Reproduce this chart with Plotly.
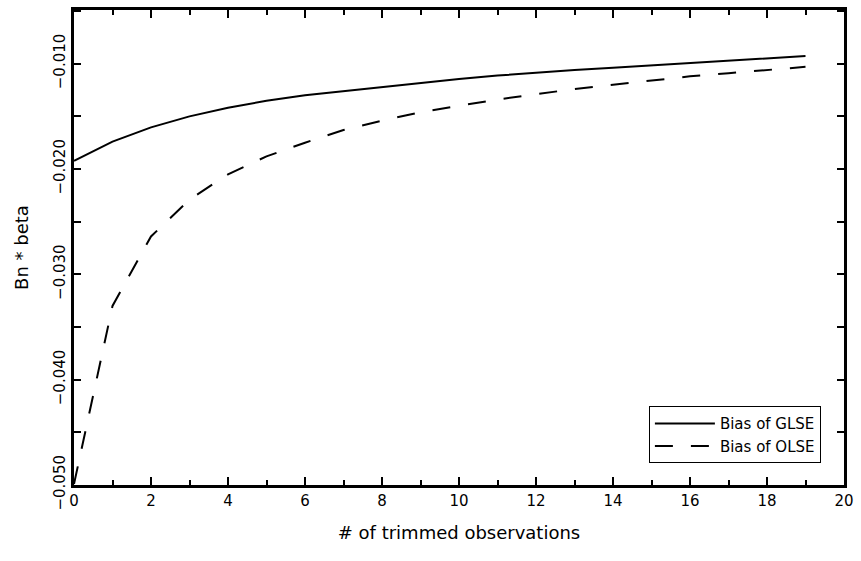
import plotly.graph_objects as go

trimmed = list(range(20))
bias_glse = [-0.01922, -0.01739, -0.01604, -0.01500, -0.01418, -0.01352, -0.01300,
             -0.01262, -0.01220, -0.01180, -0.01145, -0.01113, -0.01085, -0.01060,
             -0.01038, -0.01015, -0.00993, -0.00970, -0.00950, -0.00927]
bias_olse = [-0.0499, -0.0330, -0.0264, -0.0229, -0.0205, -0.0188, -0.0175,
             -0.0163, -0.0154, -0.0146, -0.0140, -0.0134, -0.0129, -0.0124,
             -0.0120, -0.0116, -0.0112, -0.0109, -0.0106, -0.0103]
series_names = ["Bias of GLSE", "Bias of OLSE"]

FONT = "DejaVu Sans"

fig = go.Figure()
fig.add_trace(go.Scatter(x=trimmed, y=bias_glse, mode="lines", name=series_names[0],
                         line=dict(color="black", width=2)))
fig.add_trace(go.Scatter(x=trimmed, y=bias_olse, mode="lines", name=series_names[1],
                         line=dict(color="black", width=2, dash="18px,18px")))

fig.update_layout(
    width=861, height=561,
    margin=dict(l=74, r=16, t=7, b=76),
    paper_bgcolor="white", plot_bgcolor="white",
    font=dict(family=FONT, size=15, color="black"),
    legend=dict(x=0.970, y=0.046, xanchor="right", yanchor="bottom",
                bordercolor="black", borderwidth=1, bgcolor="white",
                font=dict(family=FONT, size=15, color="black"),
                itemwidth=60, tracegroupgap=0),
    showlegend=True,
)
fig.update_xaxes(
    range=[0, 20], dtick=2, tick0=0,
    showline=True, linecolor="black", linewidth=3, mirror="allticks",
    ticks="inside", ticklen=8, tickwidth=2, tickcolor="black",
    minor=dict(dtick=1, ticklen=5, tickwidth=2, tickcolor="black", ticks="inside"),
    showgrid=False, zeroline=False,
    tickfont=dict(family=FONT, size=15, color="black"),
    title=dict(text="# of trimmed observations", standoff=18,
               font=dict(family=FONT, size=18, color="black")),
)
fig.update_yaxes(
    range=[-0.050, -0.0049], dtick=0.01, tick0=-0.05, tickformat=".3f",
    showline=True, linecolor="black", linewidth=3, mirror="allticks",
    ticks="inside", ticklen=7, tickwidth=2, tickcolor="black",
    minor=dict(dtick=0.005, ticklen=7, tickwidth=2, tickcolor="black", ticks="inside"),
    showgrid=False, zeroline=False, tickangle=-90,
    tickfont=dict(family=FONT, size=15, color="black"),
    title=dict(text="Bn * beta", standoff=18, font=dict(family=FONT, size=18, color="black")),
)

fig.write_html("out.html", config={"displayModeBar": False},
               post_script="document.body.style.margin='0';")
